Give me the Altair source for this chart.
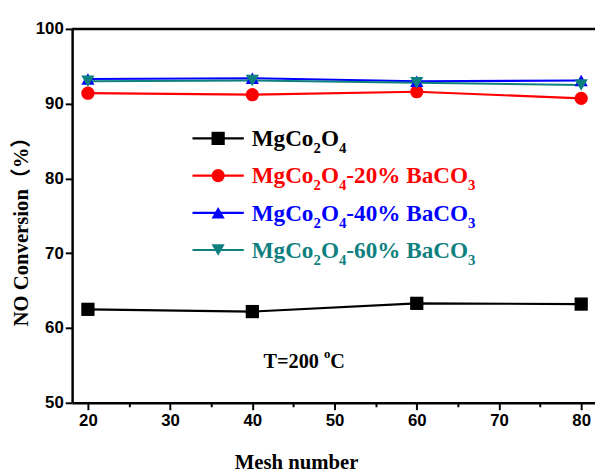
import altair as alt
import pandas as pd

# ---------------- data ----------------
mesh = [20, 40, 60, 80]
series = ["MgCo2O4", "MgCo2O4-20% BaCO3", "MgCo2O4-40% BaCO3", "MgCo2O4-60% BaCO3"]
values = [
    [62.5, 62.2, 63.3, 63.2],
    [91.4, 91.2, 91.6, 90.7],
    [93.3, 93.4, 93.0, 93.1],
    [93.0, 93.1, 92.8, 92.5],
]
colors = ["#000000", "#ff0000", "#0000ff", "#0f8080"]
shapes = ["square", "circle", "triangle-up", "triangle-down"]
x_ticks = [20, 25, 30, 35, 40, 45, 50, 55, 60, 65, 70, 75, 80]
y_ticks = [50, 55, 60, 65, 70, 75, 80, 85, 90, 95, 100]
y_max = [100]

# legend label pieces: (text, kind) kind 0 = normal, 1 = subscript, 2 = superscript
legend_segments = [
    [("MgCo", 0), ("2", 1), ("O", 0), ("4", 1)],
    [("MgCo", 0), ("2", 1), ("O", 0), ("4", 1), ("-20% BaCO", 0), ("3", 1)],
    [("MgCo", 0), ("2", 1), ("O", 0), ("4", 1), ("-40% BaCO", 0), ("3", 1)],
    [("MgCo", 0), ("2", 1), ("O", 0), ("4", 1), ("-60% BaCO", 0), ("3", 1)],
]
annot_segments = [("T=200 ", 0), ("o", 2), ("C", 0)]

# ---------------- layout ----------------
W, H = 530, 379
SERIF = "Liberation Serif"
SANS = "Liberation Sans"

# Times/Liberation Serif Bold advance widths (per em)
ADV = {"M": .944, "g": .5, "C": .722, "o": .5, "O": .778, "-": .333, "%": 1.0,
       " ": .25, "B": .667, "a": .5, "T": .667, "=": .570}
for d in "0123456789":
    ADV[d] = .5


def seg_width(t, fs):
    return sum(ADV.get(ch, .5) for ch in t) * fs


rows = []
for i, s in enumerate(series):
    for j, m in enumerate(mesh):
        rows.append({"series": s, "mesh": m, "conv": values[i][j],
                     "col": colors[i], "shp": shapes[i], "order": i})
df = pd.DataFrame(rows)

# legend
LEG_MAIN, LEG_SUB = 23.5, 15
leg_rows, leg_txt = [], []
for i, s in enumerate(series):
    ly = 111 + 37.7 * i
    leg_rows.append({"series": s, "x1": 122, "x2": 174, "xm": 148, "ly": ly,
                     "col": colors[i], "shp": shapes[i]})
    x = 182
    for t, k in legend_segments[i]:
        fs = LEG_MAIN if k == 0 else LEG_SUB
        leg_txt.append({"t": t, "tx": x, "ty": ly + (8 if k == 0 else 15),
                        "fs": fs, "col": colors[i]})
        x += seg_width(t, fs)
leg_df = pd.DataFrame(leg_rows)
leg_txt_df = pd.DataFrame(leg_txt)

ann = []
x = 194
for t, k in annot_segments:
    fs = 20.5 if k == 0 else 13
    ann.append({"t": t, "tx": x, "ty": 344 if k == 0 else 334, "fs": fs, "col": "#000000"})
    x += seg_width(t, fs)
ann_df = pd.DataFrame(ann)

xscale = alt.Scale(domain=[18.08, 81.68], nice=False, zero=False)
yscale = alt.Scale(domain=[50, 100], nice=False, zero=False)

major = "datum.value % 10 == 0"
tick_size = {"condition": {"test": major, "value": 7}, "value": 4}

main_x_axis = alt.Axis(values=x_ticks, title="Mesh number", titleFont=SERIF,
                       titleFontSize=21, titleFontWeight="bold", titleColor="black",
                       titleX=227, titleY=50, titleAnchor="middle",
                       labelExpr=f"{major} ? datum.label : ''",
                       labelFont=SANS, labelFontSize=17, labelFontWeight="bold",
                       labelColor="black", labelPadding=3, tickSize=tick_size, tickWidth=2,
                       tickColor="black", domainColor="black", domainWidth=2.5,
                       grid=False, orient="bottom")
main_y_axis = alt.Axis(values=y_ticks, title="NO Conversion（%）",
                       titleFont=SERIF + ", Noto Sans CJK SC",
                       titleFontSize=21, titleFontWeight="bold", titleColor="black",
                       titleY=200, titleX=-51, titleAngle=-90, titleAlign="center",
                       titleBaseline="middle",
                       labelExpr=f"{major} ? datum.label : ''",
                       labelFont=SANS, labelFontSize=17, labelFontWeight="bold",
                       labelColor="black", labelPadding=2, tickSize=tick_size, tickWidth=2,
                       tickColor="black", domainColor="black", domainWidth=2.5,
                       grid=False, orient="left")

base = alt.Chart(df)

lines = base.mark_line(strokeWidth=2.2).encode(
    x=alt.X("mesh:Q", scale=xscale, axis=main_x_axis),
    y=alt.Y("conv:Q", scale=yscale, axis=main_y_axis),
    color=alt.Color("col:N", scale=None),
    detail="series:N",
)
points = base.mark_point(filled=True, opacity=1, size=180).encode(
    x=alt.X("mesh:Q", scale=xscale),
    y=alt.Y("conv:Q", scale=yscale),
    color=alt.Color("col:N", scale=None),
    shape=alt.Shape("shp:N", scale=None),
)

top = alt.Chart(pd.DataFrame({"v": y_max})).mark_rule(
    color="black", strokeWidth=2.5
).encode(y=alt.Y("v:Q", scale=yscale))

leg_lines = alt.Chart(leg_df).mark_rule(strokeWidth=2.2).encode(
    x=alt.X("x1:Q", scale=None), x2="x2:Q",
    y=alt.Y("ly:Q", scale=None),
    color=alt.Color("col:N", scale=None),
)
leg_pts = alt.Chart(leg_df).mark_point(filled=True, opacity=1, size=180).encode(
    x=alt.X("xm:Q", scale=None), y=alt.Y("ly:Q", scale=None),
    color=alt.Color("col:N", scale=None),
    shape=alt.Shape("shp:N", scale=None),
)
leg_text = alt.Chart(leg_txt_df).mark_text(
    font=SERIF, fontWeight="bold", align="left", baseline="alphabetic"
).encode(
    x=alt.X("tx:Q", scale=None), y=alt.Y("ty:Q", scale=None),
    text="t:N", size=alt.Size("fs:Q", scale=None),
    color=alt.Color("col:N", scale=None),
)
ann_text = alt.Chart(ann_df).mark_text(
    font=SERIF, fontWeight="bold", align="left", baseline="alphabetic"
).encode(
    x=alt.X("tx:Q", scale=None), y=alt.Y("ty:Q", scale=None),
    text="t:N", size=alt.Size("fs:Q", scale=None),
    color=alt.Color("col:N", scale=None),
)

chart = alt.layer(
    lines, points, top, leg_lines, leg_pts, leg_text, ann_text
).properties(
    width=W, height=H,
    autosize=alt.AutoSizeParams(type="none"),
    padding={"left": 65, "top": 18, "right": 0, "bottom": 70},
    background="white",
).configure_view(stroke=None)

chart.save("out.html", embed_options={"renderer": "svg", "actions": False})
